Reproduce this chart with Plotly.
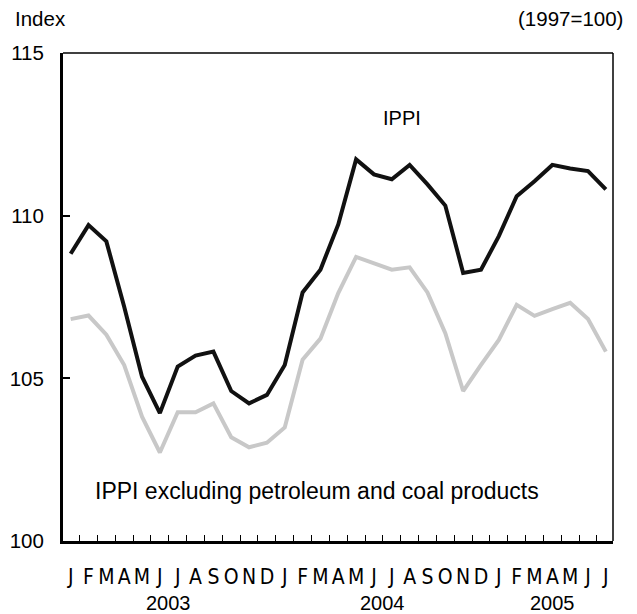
import plotly.graph_objects as go

months = ["J","F","M","A","M","J","J","A","S","O","N","D",
          "J","F","M","A","M","J","J","A","S","O","N","D",
          "J","F","M","A","M","J","J"]
ippi = [108.83,109.71,109.21,107.2,105.05,103.93,105.36,105.70,105.82,104.61,104.23,104.49,
        105.41,107.64,108.34,109.73,111.73,111.27,111.12,111.56,110.96,110.31,108.24,108.34,
        109.37,110.60,111.06,111.56,111.45,111.37,110.81]
ippi_ex = [106.82,106.93,106.34,105.41,103.82,102.72,103.96,103.96,104.23,103.19,102.88,103.02,
           103.49,105.57,106.22,107.62,108.73,108.53,108.34,108.41,107.64,106.39,104.61,105.41,
           106.18,107.26,106.92,107.13,107.32,106.82,105.82]
years = ["2003","2004","2005"]
year_pos = [5.5, 17.5, 27]
yticks = [100,105,110,115]

x = list(range(len(months)))
fig = go.Figure()
fig.add_trace(go.Scatter(x=x, y=ippi_ex, mode="lines", line=dict(color="#c8c8c8", width=4), showlegend=False))
fig.add_trace(go.Scatter(x=x, y=ippi, mode="lines", line=dict(color="#111111", width=4), showlegend=False))

font = "Liberation Sans, Arial, sans-serif"
# page body has an 8px margin: figure is 629x606 placed at (8,8)
fig.update_layout(
    width=629, height=606,
    margin=dict(l=55, r=24, t=45, b=73),
    plot_bgcolor="white", paper_bgcolor="white",
    font=dict(family=font, size=20.5, color="black"),
    xaxis=dict(range=[-0.43, 30.4], tickmode="array", tickvals=x, ticktext=months, automargin=False,
               ticks="", showgrid=False, zeroline=False, showline=True, linecolor="black", linewidth=3,
               ticklabelstandoff=15,
               tickfont=dict(family="Liberation Sans Narrow, DejaVu Sans Condensed, sans-serif", size=21),
               minor=dict(tickmode="array", tickvals=[i + 0.5 for i in range(30)], ticks="inside",
                          ticklen=6, tickwidth=1.2, tickcolor="black", showgrid=False)),
    yaxis=dict(range=[100, 115], tickmode="array", tickvals=yticks, ticks="inside", ticklen=7, automargin=False,
               tickwidth=1.5, tickcolor="black", showgrid=False, zeroline=False, showline=True,
               linecolor="black", linewidth=3, ticklabelstandoff=12, tickfont=dict(size=20.5)),
)
# top and right thinner frame
fig.add_shape(type="line", xref="paper", yref="paper", x0=0, x1=1, y0=1, y1=1, line=dict(color="black", width=1.5))
fig.add_shape(type="line", xref="paper", yref="paper", x0=1, x1=1, y0=0, y1=1, line=dict(color="black", width=1.5))

fig.add_annotation(text="Index", xref="paper", yref="paper", x=-0.091, y=1.071, xanchor="left", yanchor="middle", showarrow=False, font=dict(size=20.5))
fig.add_annotation(text="(1997=100)", xref="paper", yref="paper", x=1.022, y=1.071, xanchor="right", yanchor="middle", showarrow=False, font=dict(size=20.5))
fig.add_annotation(text="IPPI", xref="x", yref="y", x=18.6, y=113.0, xanchor="center", yanchor="middle", showarrow=False, font=dict(size=20))
fig.add_annotation(text="IPPI excluding petroleum and coal products", xref="x", yref="y", x=13.78, y=101.55, xanchor="center", yanchor="middle", showarrow=False, font=dict(size=23))
for yr, p in zip(years, year_pos):
    fig.add_annotation(text=yr, xref="x", yref="paper", x=p, y=-0.127, xanchor="center", yanchor="middle", showarrow=False, font=dict(size=20))

fig.write_html("out.html")
